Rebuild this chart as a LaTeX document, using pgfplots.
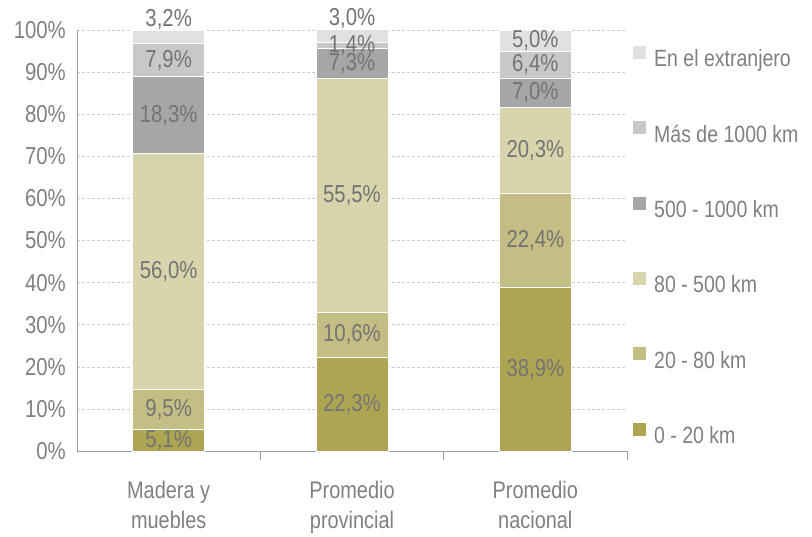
\documentclass[border=0pt]{standalone}
\usepackage{fontspec}
\setmainfont[FakeStretch=0.83]{Liberation Sans}
\usepackage{pgfplots}
\usepackage{pgfplotstable}
\pgfplotsset{compat=1.18}
\definecolor{cA}{HTML}{ADA551}
\definecolor{cB}{HTML}{C4BE84}
\definecolor{cC}{HTML}{D8D4AC}
\definecolor{cD}{HTML}{A6A6A8}
\definecolor{cE}{HTML}{C8C8C8}
\definecolor{cF}{HTML}{E1E1E1}
\definecolor{txt}{HTML}{808080}
\definecolor{lbl}{HTML}{747474}

% dy: extra lift of the top label (in %)
\pgfplotstableread{
x  a    b    c    d    e    f    dy
0  5.1  9.5  56.0 18.3 7.9  3.2  4.0
1  22.3 10.6 55.5 7.3  1.4  3.0  4.2
2  38.9 22.4 20.3 7.0  6.4  5.0  0
}\data

\newcommand{\numf}{\fontsize{24.5}{29.5}\selectfont}
\newcommand{\catf}{\fontsize{24}{29.5}\selectfont}
\newcommand{\legf}{\fontsize{23.5}{29.5}\selectfont}

\pgfplotsset{
  frame/.style={scale only axis, width=550pt, height=421pt,
    xmin=-0.5, xmax=2.5, ymin=0, ymax=100, clip=false},
  lab/.style={draw=none, mark=none, point meta=explicit, nodes near coords,
    nodes near coords={\pgfmathprintnumber[fixed,fixed zerofill,precision=1,use comma,assume math mode=true]{\pgfplotspointmeta}\%},
    every node near coord/.append style={font=\numf, text=lbl, anchor=center}},
}

\begin{document}
\begin{tikzpicture}
\begin{axis}[
  name=ax, frame,
  ybar stacked, bar width=72pt,
  axis x line*=bottom, axis y line*=left,
  axis line style={-, draw=gray!75, line width=0.8pt},
  tick align=outside, major tick length=9pt,
  xtick={0.5,1.5,2.5}, xticklabels={},
  xtick style={draw=gray!75, line width=0.8pt},
  ytick={0,10,...,100}, ytick style={draw=none},
  extra x ticks={0,1,2},
  extra x tick labels={Madera y\\muebles, Promedio\\provincial, Promedio\\nacional},
  extra x tick style={major tick length=0pt, grid=none,
    xticklabel style={align=center, yshift=-28pt, font=\catf}},
  yticklabel={\pgfmathprintnumber{\tick}\%},
  /pgf/number format/assume math mode=true,
  tick label style={font=\numf, text=txt, inner sep=2pt},
  ymajorgrids,
  major grid style={densely dashed, draw=gray!40, line width=0.6pt},
  every axis plot/.append style={draw=white, line width=0.8pt},
  legend reversed,
  legend cell align=left,
  legend style={draw=none, fill=none, at={(1,1)}, anchor=north west,
    xshift=6pt, yshift=-16pt, font=\legf, text=txt, row sep=50pt,
    inner sep=0pt, nodes={inner sep=3pt},
    /tikz/every odd column/.append style={column sep=5pt}},
  legend image code/.code={\fill[#1,draw=none] (0pt,0pt) rectangle (13pt,13pt);},
]
\addplot[fill=cA] table[x=x, y=a] {\data};
\addlegendentry{0 - 20 km}
\addplot[fill=cB] table[x=x, y=b] {\data};
\addlegendentry{20 - 80 km}
\addplot[fill=cC] table[x=x, y=c] {\data};
\addlegendentry{80 - 500 km}
\addplot[fill=cD] table[x=x, y=d] {\data};
\addlegendentry{500 - 1000 km}
\addplot[fill=cE] table[x=x, y=e] {\data};
\addlegendentry{Más de 1000 km}
\addplot[fill=cF] table[x=x, y=f] {\data};
\addlegendentry{En el extranjero}
\end{axis}
% value labels, centred in each segment
\begin{axis}[frame, hide axis]
\addplot[lab] table[x=x, y expr=\thisrow{a}/2, meta=a] {\data};
\addplot[lab] table[x=x, y expr=\thisrow{a}+\thisrow{b}/2, meta=b] {\data};
\addplot[lab] table[x=x, y expr=\thisrow{a}+\thisrow{b}+\thisrow{c}/2, meta=c] {\data};
\addplot[lab] table[x=x, y expr=\thisrow{a}+\thisrow{b}+\thisrow{c}+\thisrow{d}/2, meta=d] {\data};
\addplot[lab] table[x=x, y expr=\thisrow{a}+\thisrow{b}+\thisrow{c}+\thisrow{d}+\thisrow{e}/2, meta=e] {\data};
\addplot[lab] table[x=x, y expr=\thisrow{a}+\thisrow{b}+\thisrow{c}+\thisrow{d}+\thisrow{e}+\thisrow{f}/2+\thisrow{dy}, meta=f] {\data};
\end{axis}
\pgfresetboundingbox
\path[use as bounding box] (ax.south west) ++(-77pt,-85pt) rectangle ++(812pt,536pt);
\end{tikzpicture}
\end{document}
